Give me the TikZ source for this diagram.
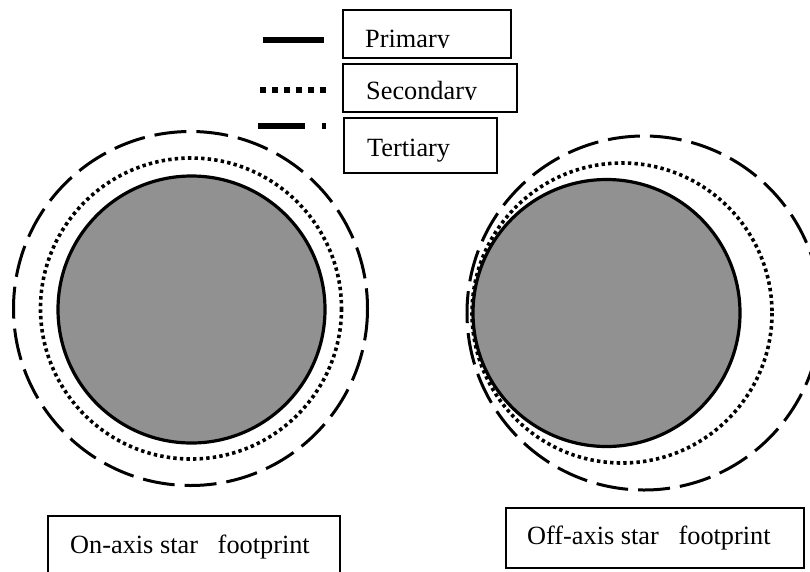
\documentclass[tikz,border=0pt]{standalone}
\usepackage{fontspec}
\setmainfont{Liberation Serif}
\definecolor{diskgray}{RGB}{145,145,145}
\begin{document}
\begin{tikzpicture}[x=1pt,y=-1pt,
  labelbox/.style={draw=black,line width=2.4pt},
  labeltext/.style={anchor=base west,inner sep=0pt,font=\fontsize{26.3}{30}\selectfont},
  primaryline/.style={draw=black,line width=3.2pt},
  secondaryline/.style={draw=black,line width=3.6pt,dash pattern=on 3.4pt off 3.2pt},
  tertiaryline/.style={draw=black,line width=3pt,dash pattern=on 32pt off 10pt},
  diskfill/.style={fill=diskgray}]
\useasboundingbox (0,0) rectangle (810,571);
\clip (0,0) rectangle (810,571);
\fill[white] (0,0) rectangle (810,571);

% legend samples
\coordinate (pa) at (263,40); \coordinate (pb) at (324,40);
\draw[line width=6pt] (pa) -- (pb);
\coordinate (sa) at (260,90); \coordinate (sb) at (326,90);
\draw[line width=6pt,dash pattern=on 6pt off 5.9pt] (sa) -- (sb);
\coordinate (ta) at (258,126); \coordinate (tb) at (326,126);
\draw[line width=6pt,dash pattern=on 47pt off 17pt] (ta) -- (tb);

% legend boxes
\draw[labelbox] (343,10) rectangle (511,58);
\draw[labelbox] (343,64) rectangle (517,112);
\draw[labelbox] (344,118) rectangle (497,173);
\begin{scope}
\clip (343,10) rectangle (511,47.5);
\node[labeltext] (prim) at (365,47) {Primary};
\end{scope}
\begin{scope}
\clip (343,64) rectangle (517,99.5);
\node[labeltext] (sec) at (366,99) {Secondary};
\end{scope}
\node[labeltext] (ter) at (367,156) {Tertiary};

% left: on-axis footprint
\fill[diskfill] (191.5,309.5) circle (133.5);
\draw[secondaryline] (191,308.5) circle (150.5);
\draw[tertiaryline] (190.5,308.5) circle (177);
\draw[primaryline] (191.5,309.5) circle (133.5);

% right: off-axis footprint
\fill[diskfill] (606.5,313) circle (133.5);
\draw[secondaryline] (622,313) circle (150);
\draw[tertiaryline] (644,313) circle (177);
\draw[primaryline] (606.5,313) circle (133.5);

% bottom labels
\draw[labelbox] (48,516) rectangle (340,580);
\node[labeltext] (onaxis) at (70,553) {On-axis star~~~footprint};
\draw[labelbox] (506,508) rectangle (804,568);
\node[labeltext] (offaxis) at (527,544) {Off-axis star~~~footprint};
\end{tikzpicture}
\end{document}
